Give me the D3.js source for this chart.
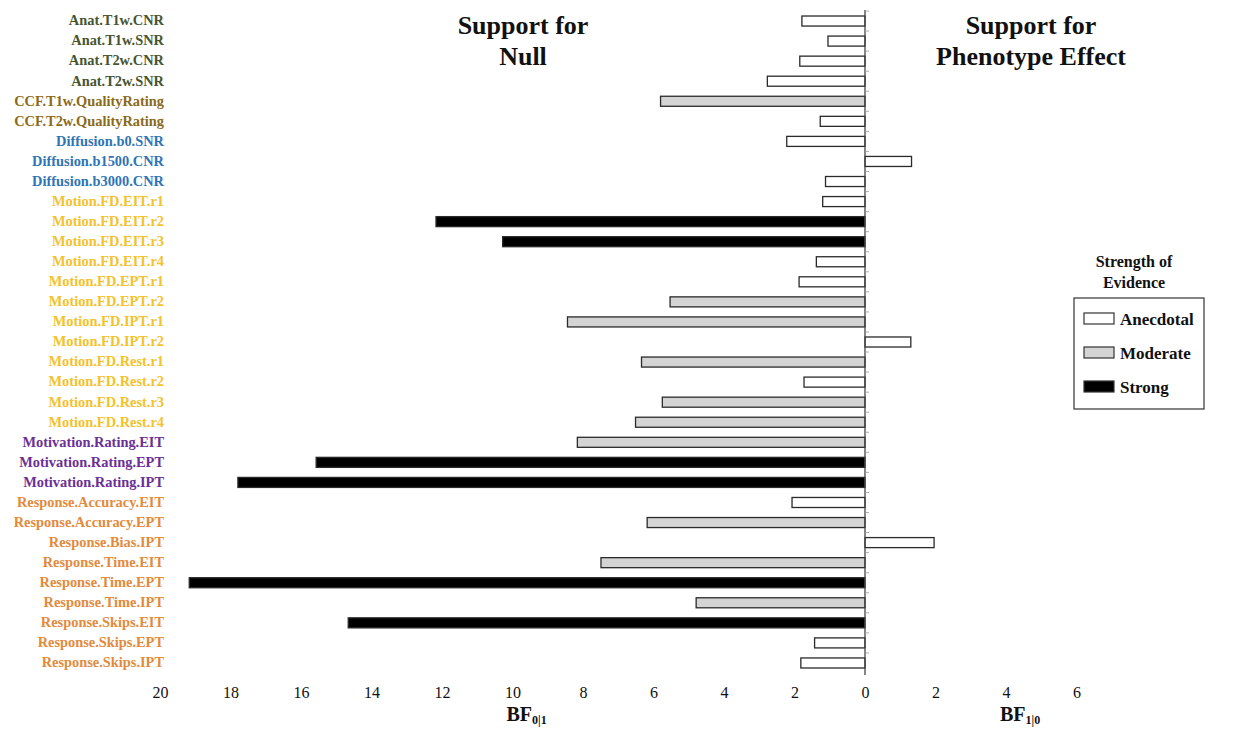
<!DOCTYPE html>
<html>
<head>
<meta charset="utf-8">
<script src="https://cdn.jsdelivr.net/npm/d3@7"></script>
<style>
  body { margin: 0; background: #fff; }
  svg { display: block; }
  text { font-family: "Liberation Serif", "Times New Roman", serif; }
</style>
</head>
<body>
<svg width="1233" height="731"></svg>
<script>
// --- Data ---
const measures = [
  "Anat.T1w.CNR", "Anat.T1w.SNR", "Anat.T2w.CNR", "Anat.T2w.SNR",
  "CCF.T1w.QualityRating", "CCF.T2w.QualityRating",
  "Diffusion.b0.SNR", "Diffusion.b1500.CNR", "Diffusion.b3000.CNR",
  "Motion.FD.EIT.r1", "Motion.FD.EIT.r2", "Motion.FD.EIT.r3", "Motion.FD.EIT.r4",
  "Motion.FD.EPT.r1", "Motion.FD.EPT.r2", "Motion.FD.IPT.r1", "Motion.FD.IPT.r2",
  "Motion.FD.Rest.r1", "Motion.FD.Rest.r2", "Motion.FD.Rest.r3", "Motion.FD.Rest.r4",
  "Motivation.Rating.EIT", "Motivation.Rating.EPT", "Motivation.Rating.IPT",
  "Response.Accuracy.EIT", "Response.Accuracy.EPT", "Response.Bias.IPT",
  "Response.Time.EIT", "Response.Time.EPT", "Response.Time.IPT",
  "Response.Skips.EIT", "Response.Skips.EPT", "Response.Skips.IPT"
];

// negative = BF01 (support for null), positive = BF10 (support for effect)
const bfValues = [
  -1.79, -1.05, -1.85, -2.77,
  -5.80, -1.27,
  -2.22, 1.32, -1.12,
  -1.20, -12.17, -10.28, -1.38,
  -1.87, -5.53, -8.44, 1.30,
  -6.34, -1.73, -5.75, -6.51,
  -8.16, -15.57, -17.79,
  -2.07, -6.18, 1.96,
  -7.49, -19.17, -4.79,
  -14.66, -1.43, -1.82
];

const groupColors = {
  Anat: "#46552e",
  CCF: "#8c6a1c",
  Diffusion: "#2f74b5",
  Motion: "#f3c22c",
  Motivation: "#6b2f97",
  Response: "#e38a3c"
};

const xTicks = [-20, -18, -16, -14, -12, -10, -8, -6, -4, -2, 0, 2, 4, 6];
const strengthLevels = ["Anecdotal", "Moderate", "Strong"];
const strengthFills = ["#ffffff", "#d4d4d4", "#000000"];

function strengthOf(v) {
  const a = Math.abs(v);
  return a < 3 ? 0 : a < 10 ? 1 : 2;
}

// --- Layout ---
const svg = d3.select("svg");
const x = d3.scaleLinear().domain([-20, 6]).range([160, 1076.5]);
const y = d3.scaleBand().domain(measures).range([11, 673]).paddingInner(0.5).paddingOuter(0.25);

// bars
svg.append("g")
  .selectAll("rect")
  .data(measures.map((m, i) => ({ m, v: bfValues[i] })))
  .join("rect")
  .attr("x", d => x(Math.min(0, d.v)))
  .attr("y", d => y(d.m))
  .attr("width", d => Math.abs(x(d.v) - x(0)))
  .attr("height", y.bandwidth())
  .attr("fill", d => strengthFills[strengthOf(d.v)])
  .attr("stroke", "#2a2a2a")
  .attr("stroke-width", 1.3);

// zero line with small ticks
svg.append("line")
  .attr("x1", x(0)).attr("x2", x(0))
  .attr("y1", 10).attr("y2", 675)
  .attr("stroke", "#444").attr("stroke-width", 1.3);

svg.append("g")
  .selectAll("line")
  .data(measures)
  .join("line")
  .attr("x1", x(0)).attr("x2", x(0) + 4)
  .attr("y1", d => y(d) - y.step() * 0.25)
  .attr("y2", d => y(d) - y.step() * 0.25)
  .attr("stroke", "#999").attr("stroke-width", 0.8);

// category labels
const yAxis = svg.append("g")
  .attr("transform", "translate(164,0)")
  .call(d3.axisLeft(y).tickSize(0).tickPadding(0));
yAxis.select(".domain").remove();
yAxis.selectAll("text")
  .attr("font-family", "'Liberation Serif', serif")
  .attr("font-size", 14.4)
  .attr("font-weight", "bold")
  .attr("dy", "0.3em")
  .attr("fill", d => groupColors[d.split(".")[0]]);

// x axis tick labels
const xAxis = svg.append("g")
  .attr("transform", "translate(0,687)")
  .call(d3.axisBottom(x).tickValues(xTicks).tickFormat(d => Math.abs(d)).tickSize(0).tickPadding(0));
xAxis.select(".domain").remove();
xAxis.selectAll("text")
  .attr("font-family", "'Liberation Serif', serif")
  .attr("font-size", 16)
  .attr("fill", "#111");

// axis titles
function bfLabel(cx, sub) {
  const t = svg.append("text")
    .attr("x", cx).attr("y", 721)
    .attr("text-anchor", "middle")
    .attr("font-size", 20).attr("font-weight", "bold").attr("fill", "#111");
  t.append("tspan").text("BF");
  t.append("tspan").attr("font-size", 12).attr("dy", 3).text(sub);
}
bfLabel(x(-9.6), "0|1");
bfLabel(x(4.4), "1|0");

// side titles
function title(cx, lines) {
  lines.forEach((l, i) => {
    svg.append("text")
      .attr("x", cx).attr("y", 34 + i * 31)
      .attr("text-anchor", "middle")
      .attr("font-size", 26).attr("font-weight", "bold").attr("fill", "#111")
      .text(l);
  });
}
title(523, ["Support for", "Null"]);
title(1031, ["Support for", "Phenotype Effect"]);

// legend
const lg = svg.append("g").attr("transform", "translate(1074,0)");
["Strength of", "Evidence"].forEach((l, i) => {
  lg.append("text")
    .attr("x", 60).attr("y", 267 + i * 21)
    .attr("text-anchor", "middle")
    .attr("font-size", 16).attr("font-weight", "bold").attr("fill", "#111")
    .text(l);
});
lg.append("rect")
  .attr("x", 0).attr("y", 298).attr("width", 130).attr("height", 111)
  .attr("fill", "none").attr("stroke", "#333").attr("stroke-width", 1.2);
strengthLevels.forEach((s, i) => {
  const yy = 319 + i * 34;
  lg.append("rect")
    .attr("x", 10).attr("y", yy - 6).attr("width", 30).attr("height", 11)
    .attr("fill", strengthFills[i]).attr("stroke", "#333").attr("stroke-width", 1.2);
  lg.append("text")
    .attr("x", 46).attr("y", yy + 6)
    .attr("font-size", 17).attr("font-weight", "bold").attr("fill", "#111")
    .text(s);
});
</script>
</body>
</html>
